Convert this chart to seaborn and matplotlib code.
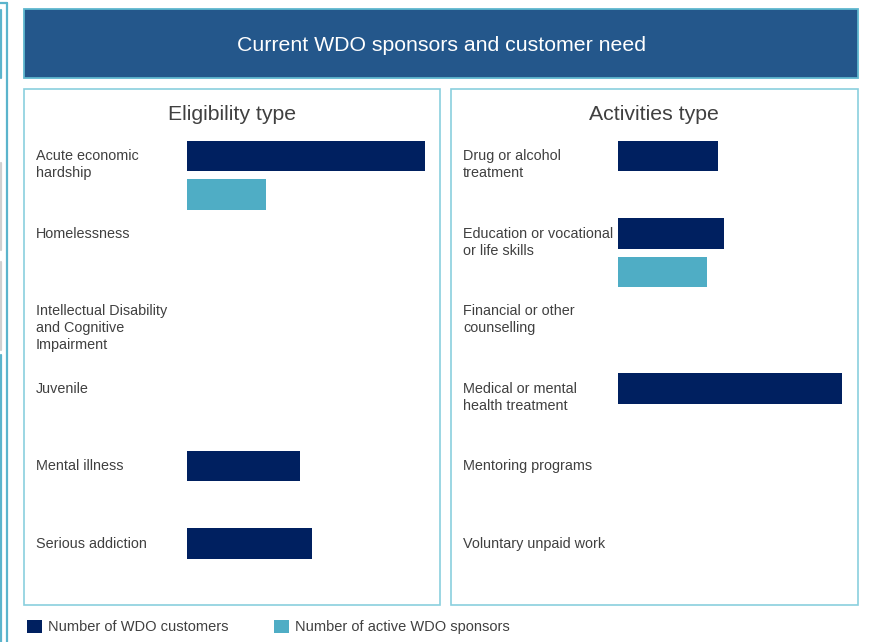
import matplotlib
matplotlib.use("Agg")
import matplotlib.pyplot as plt
import matplotlib.transforms as mtransforms
from matplotlib.patches import Rectangle, Patch
from matplotlib.lines import Line2D
import seaborn as sns
import pandas as pd

# ---------------- data ----------------
title = "Current WDO sponsors and customer need"
series_names = ["Number of WDO customers", "Number of active WDO sponsors"]

elig_title = "Eligibility type"
elig_categories = ["Acute economic\nhardship", "Homelessness",
                   "Intellectual Disability\nand Cognitive\nImpairment",
                   "Juvenile", "Mental illness", "Serious addiction"]
elig_customers = [19, 0, 0, 0, 9, 10]
elig_sponsors = [6.3, 0, 0, 0, 0, 0]

act_title = "Activities type"
act_categories = ["Drug or alcohol\ntreatment", "Education or vocational\nor life skills",
                  "Financial or other\ncounselling", "Medical or mental\nhealth treatment",
                  "Mentoring programs", "Voluntary unpaid work"]
act_customers = [8, 8.5, 0, 17.9, 0, 0]
act_sponsors = [0, 7.1, 0, 0, 0, 0]

DARK = "#002060"
LIGHT = "#4FADC5"
TEXT = "#404040"
FRAME = "#8ACFDE"

sns.set_theme(style="white")
plt.rcParams["font.family"] = ["Liberation Sans", "DejaVu Sans"]

W, H = 871, 642
fig = plt.figure(figsize=(W / 100, H / 100), dpi=100)


def fx(x):
    return x / W


def fy(y):
    return 1 - y / H


def rect_px(x0, y0, x1, y1, **kw):
    fig.add_artist(Rectangle((fx(x0), fy(y1)), fx(x1) - fx(x0), fy(y0) - fy(y1),
                             transform=fig.transFigure, **kw))


# left edge decorations (cropped neighbouring frames)
for (x, y0, y1, c) in [(6.5, 3, 642, "#5BB4CC"), (0.8, 10, 78, "#5BB4CC"),
                       (0.8, 163, 250, "#D0D0D0"), (0.8, 262, 350, "#D0D0D0"),
                       (0.8, 355, 642, "#5BB4CC")]:
    fig.add_artist(Line2D([fx(x), fx(x)], [fy(y0), fy(y1)], color=c, lw=1.6,
                          transform=fig.transFigure))
fig.add_artist(Line2D([0, fx(6.5)], [fy(3), fy(3)], color="#5BB4CC", lw=1.6,
                      transform=fig.transFigure))

# header
rect_px(24, 9, 858, 78, facecolor="#24578B", edgecolor="#5FB8CF", lw=1.3)
fig.text(fx(441), fy(45.3), title, color="white", fontsize=15.3, ha="center", va="center")

# panels
rect_px(24, 89, 440, 605, facecolor="none", edgecolor=FRAME, lw=1.2)
rect_px(451, 89, 858, 605, facecolor="none", edgecolor=FRAME, lw=1.2)
fig.text(fx(232), fy(114), elig_title, color=TEXT, fontsize=15.3, ha="center", va="center")
fig.text(fx(654), fy(114), act_title, color=TEXT, fontsize=15.3, ha="center", va="center")

UNIT = 12.5  # px per value unit
ROW = 77.5
top_cat = 175.25 - ROW / 2


def panel(ax_left, ax_right, label_x, cats, cust, spon):
    ax = fig.add_axes([fx(ax_left), fy(top_cat + 6 * ROW), fx(ax_right) - fx(ax_left),
                       6 * ROW / H])
    df = pd.DataFrame({
        "category": cats * 2,
        "series": [series_names[0]] * len(cats) + [series_names[1]] * len(cats),
        "value": list(cust) + list(spon),
    })
    sns.barplot(data=df, y="category", x="value", hue="series", order=cats,
                hue_order=series_names, palette=[DARK, LIGHT], orient="h",
                width=0.994, gap=0.22, linewidth=0, saturation=1, legend=False, ax=ax)
    ax.set_xlim(0, (ax_right - ax_left) / UNIT)
    ax.set_ylim(len(cats) - 0.5, -0.5)
    ax.axis("off")
    tr = mtransforms.blended_transform_factory(fig.transFigure, ax.transData)
    tr = mtransforms.offset_copy(tr, fig=fig, x=0, y=26, units="dots")
    for i, c in enumerate(cats):
        ax.text(fx(label_x), i, c, transform=tr, ha="left", va="top",
                fontsize=10.4, color=TEXT, linespacing=1.28)
    return ax


panel(187, 437, 36, elig_categories, elig_customers, elig_sponsors)
panel(618, 855, 463, act_categories, act_customers, act_sponsors)

handles = [Patch(facecolor=DARK, edgecolor="none", label=series_names[0]),
           Patch(facecolor=LIGHT, edgecolor="none", label=series_names[1])]
fig.legend(handles=handles, loc="center left", bbox_to_anchor=(fx(27), fy(627)),
           ncol=2, frameon=False, fontsize=10.5, handlelength=1.05, handleheight=1.05,
           handletextpad=0.4, columnspacing=3.1, labelcolor=TEXT, borderpad=0.0,
           borderaxespad=0.0)

fig.savefig("out.png", dpi=100)
